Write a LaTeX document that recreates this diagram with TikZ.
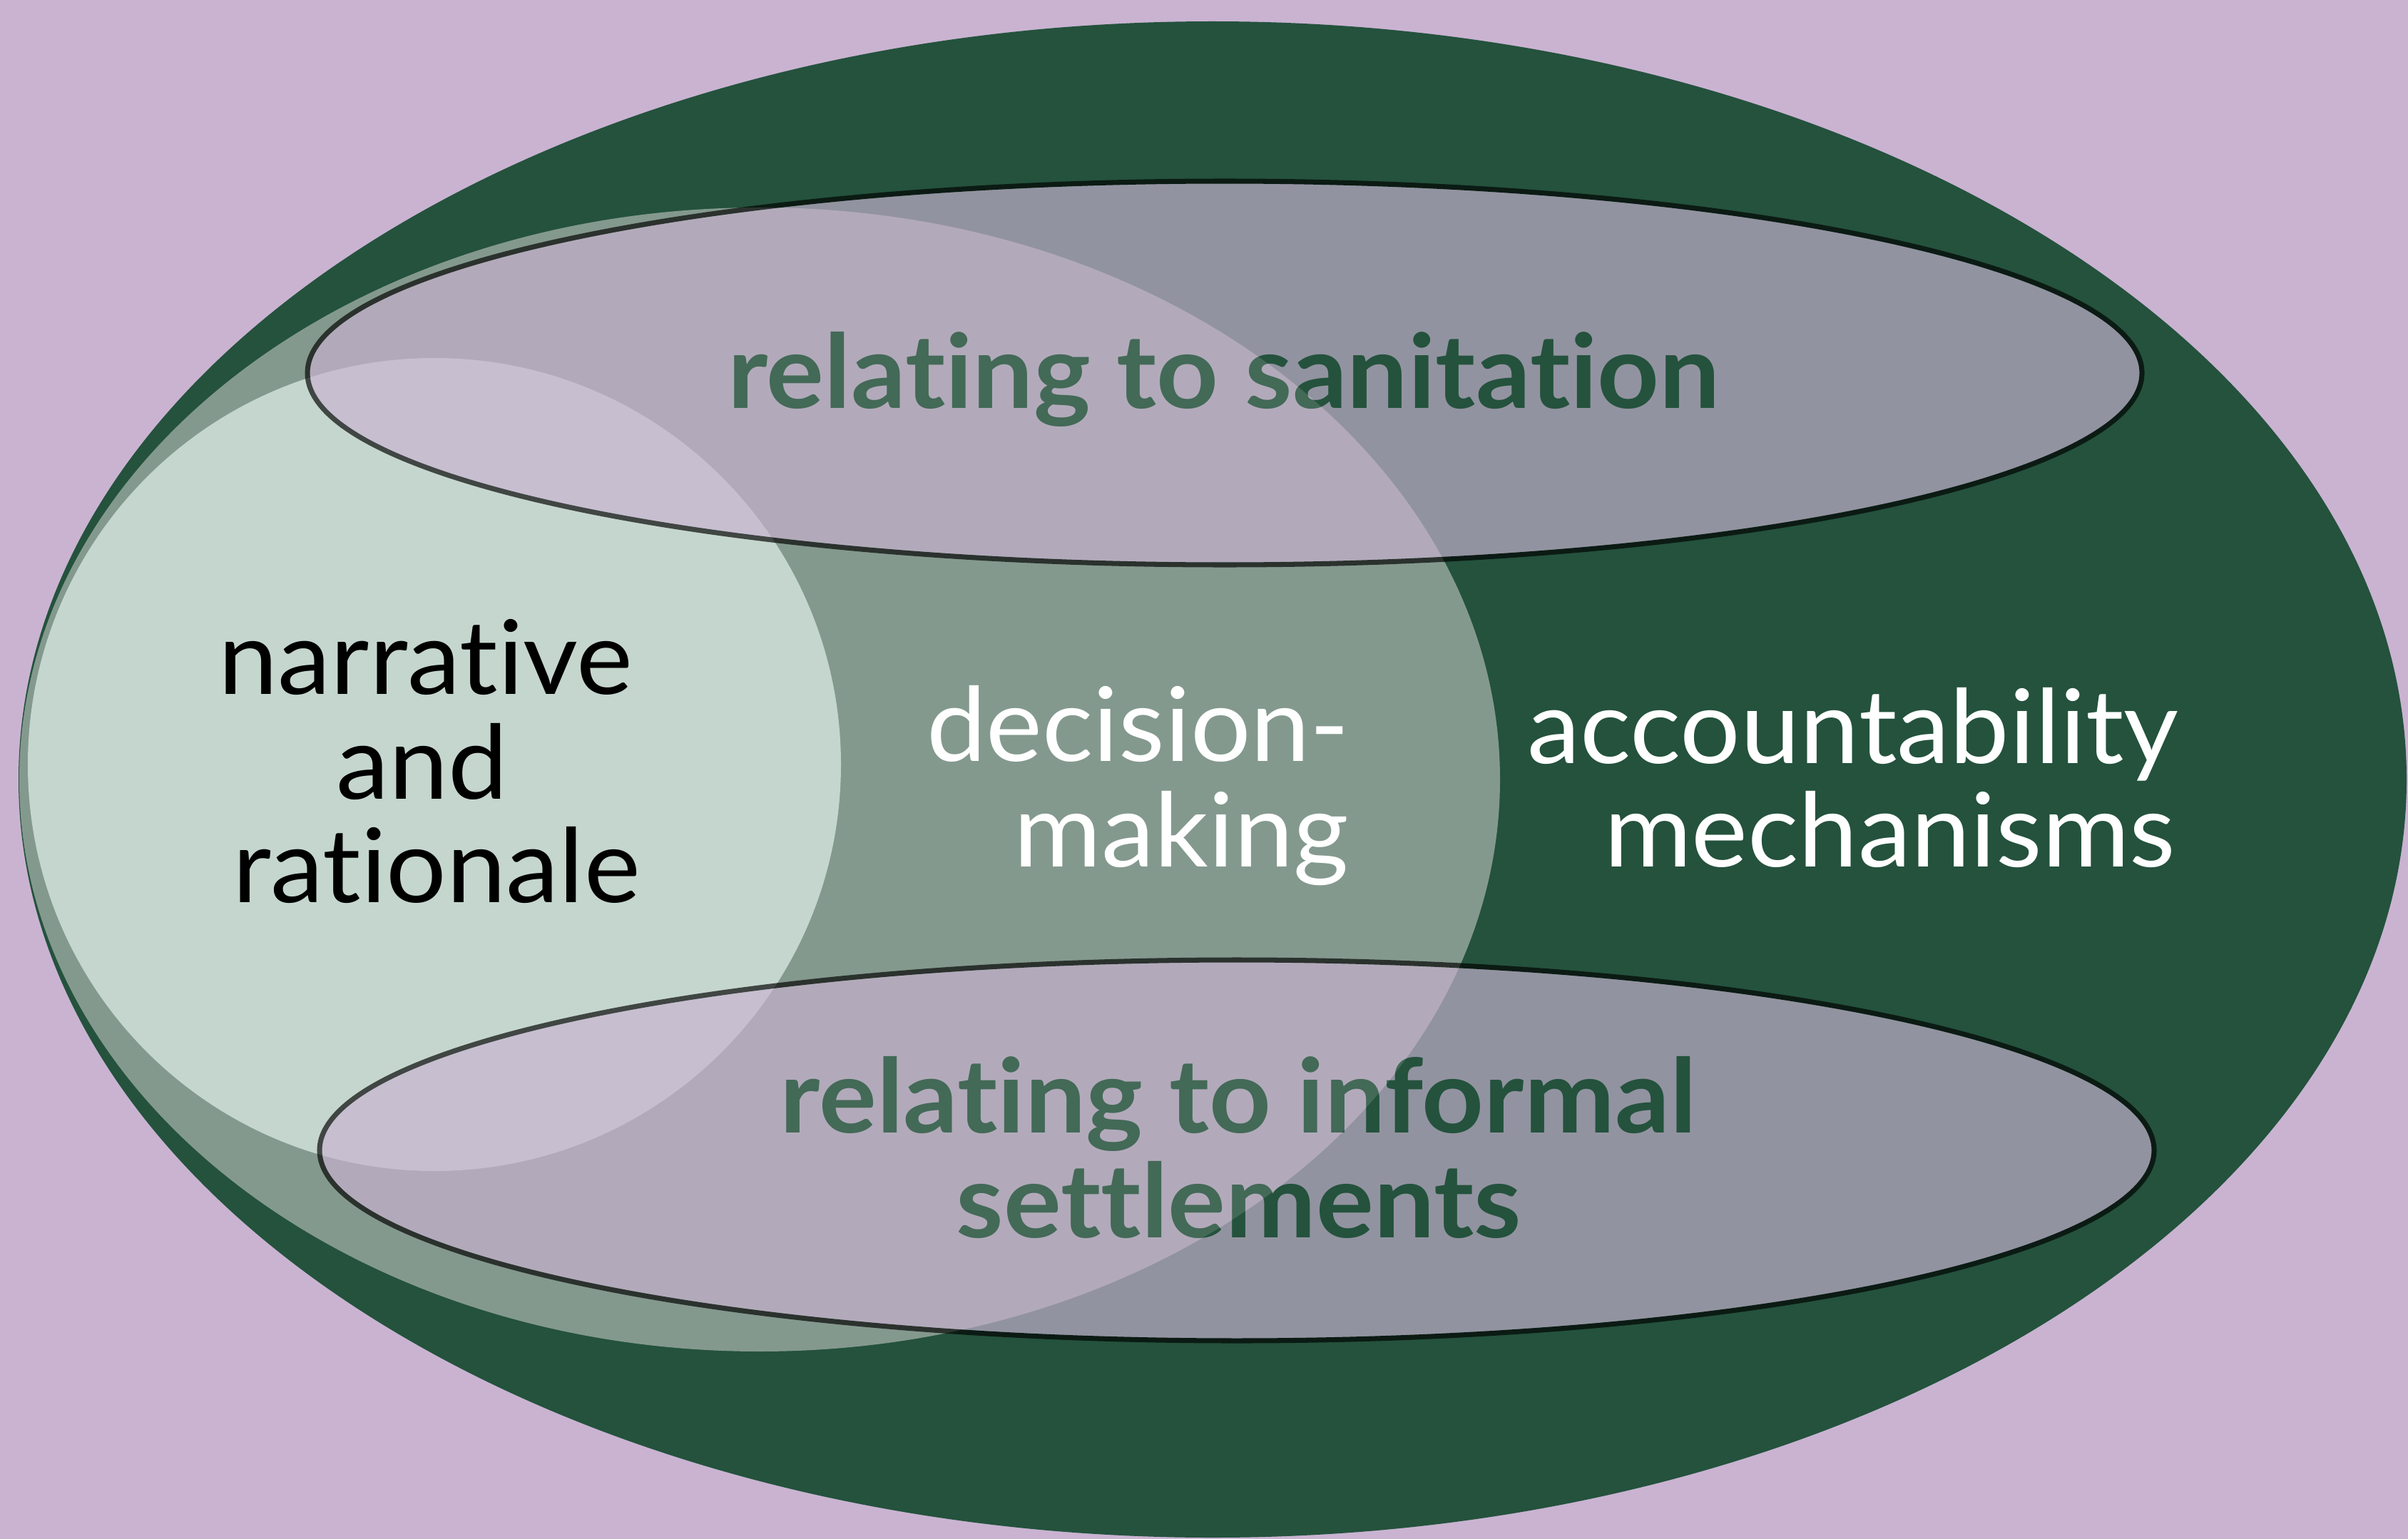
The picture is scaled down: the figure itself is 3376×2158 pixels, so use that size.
\documentclass[tikz,border=0pt]{standalone}
\usepackage{fontspec}
\setmainfont{Lato}[Ligatures={NoCommon,NoContextual}, FakeStretch=1.035]
\newfontfamily\labelbold{Lato Bold}[Ligatures={NoCommon,NoContextual}, FakeStretch=1.05]
\definecolor{bglav}{HTML}{C9B3D1}
\definecolor{darkgreen}{HTML}{24523D}
\definecolor{midgreen}{HTML}{84998E}
\definecolor{palegreen}{HTML}{C5D6CE}
\tikzset{
  lbl/.style={inner sep=0pt, font=\fontsize{41}{49}\selectfont},
  glbl/.style={inner sep=0pt, font=\labelbold\fontsize{41}{49}\selectfont, text=darkgreen},
  band/.style={fill=bglav, draw=black, line width=2pt},
}
\begin{document}
\begin{tikzpicture}[x=0.01cm, y=-0.01cm]
\fill[bglav] (0,0) rectangle (3376,2158);
\useasboundingbox (0,0) rectangle (3376,2158);
% outer ellipse
\fill[darkgreen] (1700,1093) ellipse [x radius=1674, y radius=1063];
% medium ellipse
\fill[midgreen] (1065,1093) ellipse [x radius=1038, y radius=802];
% small circle
\fill[palegreen] (609,1072) circle [radius=570];
% labels in the green regions
\node[lbl, anchor=base] (n1) at (597,973) {narrative};
\node[lbl, anchor=base] (n2) at (592,1120) {and};
\node[lbl, anchor=base] (n3) at (612,1265) {rationale};
\node[lbl, anchor=base east, text=white] (d1) at (1893,1067) {decision-};
\node[lbl, anchor=base east, text=white] (d2) at (1892,1215) {making};
\node[lbl, anchor=base east, text=white] (a1) at (3055,1070) {accountability};
\node[lbl, anchor=base east, text=white] (a2) at (3051,1215) {mechanisms};
% top band
\begin{scope}[transparency group, opacity=0.67]
  \draw[band] (1717,523) ellipse [x radius=1286, y radius=269];
  \node[glbl, anchor=base] (s1) at (1716,572) {relating to sanitation};
\end{scope}
% bottom band
\begin{scope}[transparency group, opacity=0.67]
  \draw[band] (1734,1613) ellipse [x radius=1286, y radius=267];
  \node[glbl, anchor=base] (i1) at (1736,1588) {relating to informal};
  \node[glbl, anchor=base] (i2) at (1737,1735) {settlements};
\end{scope}
\end{tikzpicture}
\end{document}
